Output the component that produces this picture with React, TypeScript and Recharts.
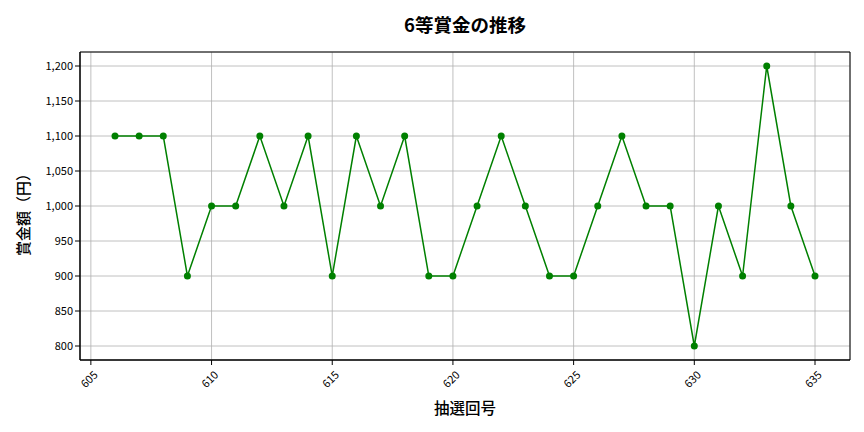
import React from 'react';
import {
  CartesianGrid,
  Line,
  LineChart,
  ReferenceArea,
  XAxis,
  YAxis,
} from 'recharts';

const draws = [
  606, 607, 608, 609, 610, 611, 612, 613, 614, 615, 616, 617, 618, 619, 620,
  621, 622, 623, 624, 625, 626, 627, 628, 629, 630, 631, 632, 633, 634, 635,
];
const prizes = [
  1100, 1100, 1100, 900, 1000, 1000, 1100, 1000, 1100, 900, 1100, 1000, 1100, 900, 900,
  1000, 1100, 1000, 900, 900, 1000, 1100, 1000, 1000, 800, 1000, 900, 1200, 1000, 900,
];
const xTicks = [605, 610, 615, 620, 625, 630, 635];
const yTicks = [800, 850, 900, 950, 1000, 1050, 1100, 1150, 1200];

const FONT = '"Noto Sans CJK JP", "DejaVu Sans", sans-serif';
const X_DOMAIN: [number, number] = [604.55, 636.45];
const Y_DOMAIN: [number, number] = [780, 1220];

const data = draws.map((d, i) => ({ draw: d, prize: prizes[i] }));

const XTick = (props: any) => {
  const { x, y, payload } = props;
  return (
    <g transform={`translate(${x - 1},${y + 13})`}>
      <text
        transform="rotate(-45)"
        textAnchor="middle"
        dominantBaseline="middle"
        fontSize={11}
        fontFamily={FONT}
        fill="#000"
      >
        {payload.value}
      </text>
    </g>
  );
};

const App: React.FC = () => {
  return (
    <div
      style={{
        position: 'fixed',
        top: 0,
        left: 0,
        width: 864,
        height: 432,
        background: '#fff',
        fontFamily: FONT,
      }}
    >
      {/* title, centred over the plot area */}
      <div
        style={{
          position: 'absolute',
          top: 11,
          left: 80,
          width: 770,
          textAlign: 'center',
          fontSize: 18.5,
          fontWeight: 'bold',
          lineHeight: '26px',
        }}
      >
        6等賞金の推移
      </div>
      <div
        style={{
          position: 'absolute',
          top: 396,
          left: 80,
          width: 770,
          textAlign: 'center',
          fontSize: 15.5,
          fontWeight: 500,
          lineHeight: '22px',
        }}
      >
        抽選回号
      </div>
      <div
        style={{
          position: 'absolute',
          left: 22.5,
          top: 211,
          fontSize: 15,
          fontWeight: 500,
          lineHeight: '22px',
          whiteSpace: 'nowrap',
          transform: 'translate(-50%, -50%) rotate(-90deg)',
        }}
      >
        賞金額（円）
      </div>
      <LineChart
        width={864}
        height={432}
        data={data}
        margin={{ top: 52, right: 14, left: 0, bottom: 0 }}
      >
        <CartesianGrid stroke="#b0b0b0" strokeWidth={0.8} />
        <XAxis
          dataKey="draw"
          type="number"
          domain={X_DOMAIN}
          ticks={xTicks}
          allowDataOverflow
          height={72}
          tick={<XTick />}
          tickSize={5}
          axisLine={{ stroke: '#000' }}
          tickLine={{ stroke: '#000' }}
        />
        <YAxis
          type="number"
          domain={Y_DOMAIN}
          ticks={yTicks}
          allowDataOverflow
          width={80}
          tickSize={5}
          tick={{ fontSize: 11, fill: '#000', fontFamily: FONT }}
          tickFormatter={(v: number) => v.toLocaleString('en-US')}
          axisLine={{ stroke: '#000' }}
          tickLine={{ stroke: '#000' }}
        />
        {/* frame around the plot */}
        <ReferenceArea
          x1={X_DOMAIN[0]}
          x2={X_DOMAIN[1]}
          y1={Y_DOMAIN[0]}
          y2={Y_DOMAIN[1]}
          fill="none"
          stroke="#000"
          strokeWidth={1}
          ifOverflow="visible"
        />
        <Line
          type="linear"
          dataKey="prize"
          stroke="#008000"
          strokeWidth={1.5}
          dot={{ r: 3.5, fill: '#008000', stroke: '#008000', strokeWidth: 0 }}
          activeDot={false}
          isAnimationActive={false}
        />
      </LineChart>
    </div>
  );
};

export default App;
